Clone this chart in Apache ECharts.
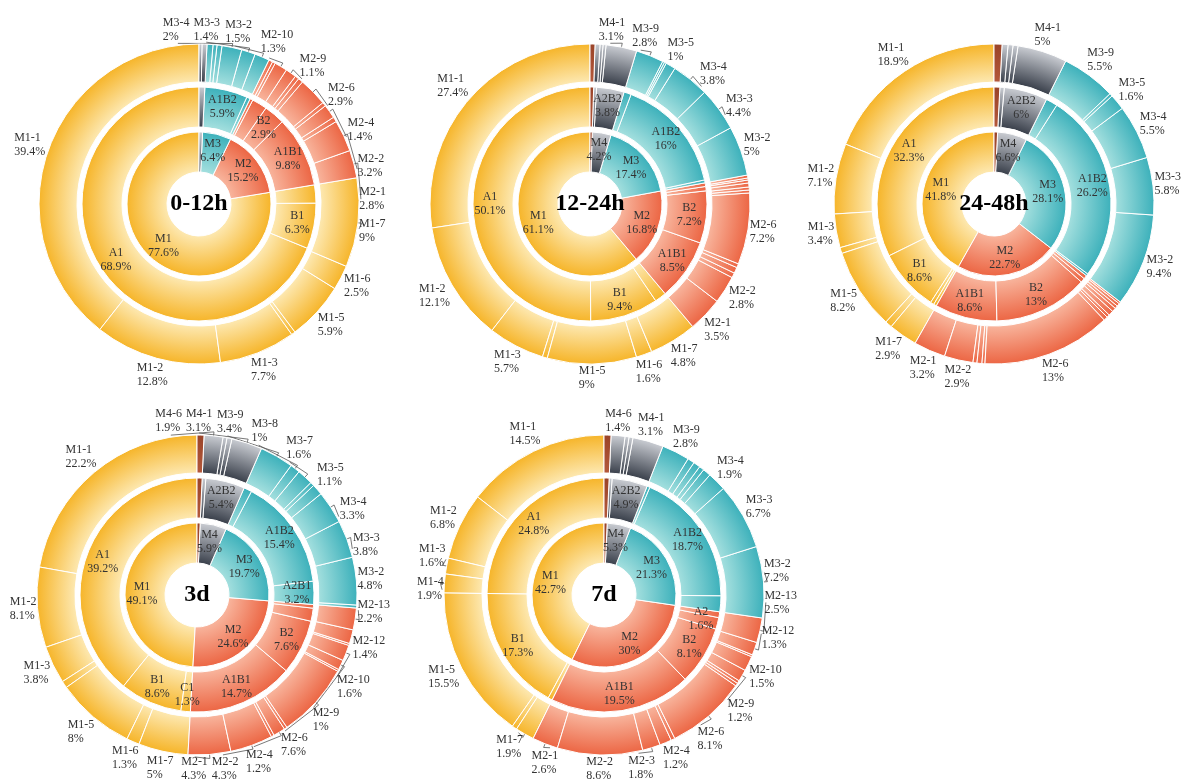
<!DOCTYPE html>
<html>
<head>
<meta charset="utf-8">
<script src="https://cdn.jsdelivr.net/npm/echarts@6/dist/echarts.min.js"></script>
<style>
  html, body { margin: 0; background: #fff; }
  #main { width: 1183px; height: 781px; }
</style>
</head>
<body>
<div id="main"></div>
<script>
// ---- data: each ring listed counter-clockwise from 12 o'clock ----
// inner ring: [name, value]; middle ring: [name, value, group]; outer ring: [name, value] (group = prefix)
const periods = ['0-12h', '12-24h', '24-48h', '3d', '7d'];

const inner_0_12h = [['M1', 77.6], ['M2', 15.2], ['M3', 6.4], ['M4', 0.8]];
const middle_0_12h = [['A1', 68.9, 'M1'], ['B1', 6.3, 'M1'], ['C1', 2.5, 'M1'],
  ['A1B1', 9.8, 'M2'], ['B2', 2.9, 'M2'], ['A2', 2.1, 'M2'], ['other', 0.4, 'M2'],
  ['A2B1', 0.5, 'M3'], ['A1B2', 5.9, 'M3'], ['A2B2', 0.8, 'M4']];
const outer_0_12h = [['M1-1', 39.4], ['M1-2', 12.8], ['M1-3', 7.7], ['M1-4', 0.4], ['M1-5', 5.9], ['M1-6', 2.5], ['M1-7', 9],
  ['M2-1', 2.8], ['M2-2', 3.2], ['M2-3', 0.5], ['M2-4', 1.4], ['M2-5', 0.4], ['M2-6', 2.9], ['M2-7', 0.5], ['M2-8', 0.4],
  ['M2-9', 1.1], ['M2-10', 1.3], ['M2-11', 0.3], ['M2-12', 0.4],
  ['M3-2', 1.5], ['M3-3', 1.4], ['M3-4', 2], ['M3-5', 0.5], ['M3-7', 0.4], ['M3-9', 0.6],
  ['M4-1', 0.5], ['M4-6', 0.3]];

const inner_12_24h = [['M1', 61.1], ['M2', 16.8], ['M3', 17.4], ['M4', 4.2], ['X', 0.5]];
const middle_12_24h = [['A1', 50.1, 'M1'], ['B1', 9.4, 'M1'], ['C1', 1.6, 'M1'],
  ['A1B1', 8.5, 'M2'], ['B2', 7.2, 'M2'], ['A2', 0.6, 'M2'], ['other', 0.5, 'M2'],
  ['A2B1', 0.4, 'M3'], ['A1B2', 16, 'M3'], ['B2C1', 1, 'M3'],
  ['A2B2', 3.8, 'M4'], ['other', 0.4, 'M4'], ['X', 0.5, 'X']];
const outer_12_24h = [['M1-1', 27.4], ['M1-2', 12.1], ['M1-3', 5.7], ['M1-4', 0.5], ['M1-5', 9], ['M1-6', 1.6], ['M1-7', 4.8],
  ['M2-1', 3.5], ['M2-2', 2.8], ['M2-3', 0.5], ['M2-4', 0.6], ['M2-5', 0.4], ['M2-6', 7.2], ['M2-7', 0.3], ['M2-8', 0.3],
  ['M2-9', 0.4], ['M2-10', 0.3], ['M2-12', 0.2], ['M2-13', 0.3],
  ['M3-2', 5], ['M3-3', 4.4], ['M3-4', 3.8], ['M3-5', 1], ['M3-7', 0.2], ['M3-8', 0.2], ['M3-9', 2.8],
  ['M4-1', 3.1], ['M4-3', 0.3], ['M4-5', 0.3], ['M4-6', 0.5], ['X', 0.5]];

const inner_24_48h = [['M1', 41.8], ['M2', 22.7], ['M3', 28.1], ['M4', 6.6], ['X', 0.8]];
const middle_24_48h = [['A1', 32.3, 'M1'], ['B1', 8.6, 'M1'], ['C1', 0.5, 'M1'], ['other', 0.4, 'M1'],
  ['A1B1', 8.6, 'M2'], ['B2', 13, 'M2'], ['A2', 0.6, 'M2'], ['other', 0.5, 'M2'],
  ['A2B1', 0.3, 'M3'], ['A1B2', 26.2, 'M3'], ['B2C1', 1.6, 'M3'],
  ['A2B2', 6, 'M4'], ['other', 0.6, 'M4'], ['X', 0.8, 'X']];
const outer_24_48h = [['M1-1', 18.9], ['M1-2', 7.1], ['M1-3', 3.4], ['M1-4', 0.6], ['M1-5', 8.2], ['M1-6', 0.7], ['M1-7', 2.9],
  ['M2-1', 3.2], ['M2-2', 2.9], ['M2-3', 0.4], ['M2-4', 0.5], ['M2-5', 0.3], ['M2-6', 13], ['M2-7', 0.4], ['M2-8', 0.3],
  ['M2-9', 0.5], ['M2-10', 0.4], ['M2-11', 0.3], ['M2-12', 0.3], ['M2-13', 0.2],
  ['M3-2', 9.4], ['M3-3', 5.8], ['M3-4', 5.5], ['M3-5', 1.6], ['M3-7', 0.3], ['M3-9', 5.5],
  ['M4-1', 5], ['M4-3', 0.5], ['M4-5', 0.5], ['M4-6', 0.6], ['X', 0.8]];

const inner_3d = [['M1', 49.1], ['M2', 24.6], ['M3', 19.7], ['M4', 5.9], ['X', 0.7]];
const middle_3d = [['A1', 39.2, 'M1'], ['B1', 8.6, 'M1'], ['C1', 1.3, 'M1'],
  ['A1B1', 14.7, 'M2'], ['B2', 7.6, 'M2'], ['A2', 1.8, 'M2'], ['other', 0.5, 'M2'],
  ['A2B1', 3.2, 'M3'], ['A1B2', 15.4, 'M3'], ['B2C1', 1.1, 'M3'],
  ['A2B2', 5.4, 'M4'], ['other', 0.5, 'M4'], ['X', 0.7, 'X']];
const outer_3d = [['M1-1', 22.2], ['M1-2', 8.1], ['M1-3', 3.8], ['M1-4', 0.7], ['M1-5', 8], ['M1-6', 1.3], ['M1-7', 5],
  ['M2-1', 4.3], ['M2-2', 4.3], ['M2-3', 0.3], ['M2-4', 1.2], ['M2-5', 0.3], ['M2-6', 7.6], ['M2-7', 0.2],
  ['M2-9', 1], ['M2-10', 1.6], ['M2-11', 0.2], ['M2-12', 1.4], ['M2-13', 2.2],
  ['M3-1', 0.3], ['M3-2', 4.8], ['M3-3', 3.8], ['M3-4', 3.3], ['M3-5', 1.1], ['M3-6', 0.4], ['M3-7', 1.6], ['M3-8', 1], ['M3-9', 3.4],
  ['M4-1', 3.1], ['M4-3', 0.5], ['M4-5', 0.4], ['M4-6', 1.9], ['X', 0.7]];

const inner_7d = [['M1', 42.7], ['M2', 30], ['M3', 21.3], ['M4', 5.3], ['X', 0.7]];
const middle_7d = [['A1', 24.8, 'M1'], ['B1', 17.3, 'M1'], ['C1', 0.6, 'M1'],
  ['A1B1', 19.5, 'M2'], ['B2', 8.1, 'M2'], ['A2', 1.6, 'M2'], ['other', 0.8, 'M2'],
  ['A2B1', 2.2, 'M3'], ['A1B2', 18.7, 'M3'], ['B2C1', 0.4, 'M3'],
  ['A2B2', 4.9, 'M4'], ['other', 0.4, 'M4'], ['X', 0.7, 'X']];
const outer_7d = [['M1-1', 14.5], ['M1-2', 6.8], ['M1-3', 1.6], ['M1-4', 1.9], ['M1-5', 15.5], ['M1-6', 0.5], ['M1-7', 1.9],
  ['M2-1', 2.6], ['M2-2', 8.6], ['M2-3', 1.8], ['M2-4', 1.2], ['M2-5', 0.4], ['M2-6', 8.1], ['M2-7', 0.3], ['M2-8', 0.3],
  ['M2-9', 1.2], ['M2-10', 1.5], ['M2-11', 0.2], ['M2-12', 1.3], ['M2-13', 2.5],
  ['M3-2', 7.2], ['M3-3', 6.7], ['M3-4', 1.9], ['M3-5', 0.8], ['M3-6', 0.5], ['M3-7', 0.7], ['M3-8', 0.7], ['M3-9', 2.8],
  ['M4-1', 3.1], ['M4-3', 0.4], ['M4-5', 0.4], ['M4-6', 1.4], ['X', 0.7]];

const rings = [
  [inner_0_12h, middle_0_12h, outer_0_12h],
  [inner_12_24h, middle_12_24h, outer_12_24h],
  [inner_24_48h, middle_24_48h, outer_24_48h],
  [inner_3d, middle_3d, outer_3d],
  [inner_7d, middle_7d, outer_7d]
];

// ---- layout & style ----
const centers = [[199, 204], [590, 204], [994, 204], [197, 595], [604, 595]];
const radii = [[32, 72], [77, 117], [122, 160]];
// [colour at ring's inner edge, colour at ring's outer edge]
const palette = {
  M1: ['#fde8b0', '#f6b52a'],
  M2: ['#f8b49c', '#ec6644'],
  M3: ['#a3dfde', '#3db1bb'],
  M4: ['#3b414c', '#c9ccd2'],
  X:  ['#b4583a', '#9a4429']
};
const serif = '"Liberation Serif", "DejaVu Serif", serif';
const labelPad = 0;      // px between ring and outer label box
const labelSep = 2;      // px kept between neighbouring outer labels

function groupOf(item, ri) {
  if (ri === 1) return item[2];
  return item[0].split('-')[0];
}

function ringColor(group, ci, ri) {
  const r = radii[ri];
  const c = palette[group];
  return {
    type: 'radial', x: centers[ci][0], y: centers[ci][1], r: r[1], global: true,
    colorStops: [{ offset: r[0] / r[1], color: c[0] }, { offset: 1, color: c[1] }]
  };
}

// mid angle (deg, counter-clockwise from 12 o'clock) of every slice
function midAngles(ring) {
  const total = ring.reduce((s, d) => s + d[1], 0);
  let acc = 0;
  return ring.map(d => { const m = (acc + d[1] / 2) / total * 360; acc += d[1]; return m; });
}

// rough label box before rendering: two lines of 12px serif
function guessSize(d) {
  const n = Math.max(d[0].length, (d[1] + '%').length);
  return [n * 6.6, 28];
}

// half extent of a label box along the circle's tangent at angle deg
function tangentExt(size, deg) {
  const t = deg * Math.PI / 180;
  return Math.abs(Math.cos(t)) * size[0] / 2 + Math.abs(Math.sin(t)) * size[1] / 2;
}

// push neighbouring label angles apart around the circle
function spreadAngles(a0, sizes) {
  const a = a0.slice();
  const n = a.length;
  if (n < 2) return a;
  const rMid = radii[2][1] + 15;
  for (let it = 0; it < 1000; it++) {
    let moved = false;
    for (let i = 0; i < n; i++) {
      const j = (i + 1) % n;
      let d = a[j] - a[i];
      if (j === 0) d += 360;
      const need = (tangentExt(sizes[i], a[i]) + tangentExt(sizes[j], a[j]) + labelSep) / rMid * 180 / Math.PI;
      if (d < need - 0.01) {
        const p = (need - d) / 2;
        a[i] -= p; a[j] += p; moved = true;
      }
    }
    if (!moved) break;
  }
  return a;
}

function polar(c, r, deg) {
  const t = deg * Math.PI / 180;
  return [c[0] - Math.sin(t) * r, c[1] - Math.cos(t) * r];
}

// outer-label angles per chart
const outerLabelAngles = rings.map(chart => {
  const ring = chart[2];
  const mids = midAngles(ring);
  const shownIdx = [];
  ring.forEach((d, i) => { if (d[1] >= 1) shownIdx.push(i); });
  const spread = spreadAngles(shownIdx.map(i => mids[i]), shownIdx.map(i => guessSize(ring[i])));
  const out = {};
  shownIdx.forEach((i, k) => { out[i] = { a0: mids[i], a: spread[k] }; });
  return out;
});

function outerLabelLayout(ci) {
  return function (params) {
    const info = outerLabelAngles[ci][params.dataIndex];
    if (!info) return {};
    const c = centers[ci];
    const R = radii[2][1];
    const w = params.labelRect.width, h = params.labelRect.height;
    const t = info.a * Math.PI / 180;
    const ext = Math.abs(Math.sin(t)) * w / 2 + Math.abs(Math.cos(t)) * h / 2;
    const rc = R + labelPad + ext;
    const p = polar(c, rc, info.a);
    let pts;
    if (Math.abs(info.a - info.a0) > 2) {
      pts = [polar(c, R - 3, info.a0), polar(c, R + 4, info.a0), polar(c, R + labelPad + 2, info.a)];
    } else {
      const q = polar(c, R, info.a0);
      pts = [q, q, q];
    }
    return {
      x: p[0] - w / 2, y: p[1], align: 'left', verticalAlign: 'middle',
      labelLinePoints: pts
    };
  };
}

const series = [];
rings.forEach((chart, ci) => {
  chart.forEach((ring, ri) => {
    const s = {
      type: 'pie',
      center: centers[ci],
      radius: radii[ri],
      startAngle: 90,
      clockwise: false,
      animation: false,
      silent: true,
      avoidLabelOverlap: false,
      itemStyle: { borderColor: '#fff', borderWidth: 1 },
      label: {
        position: ri === 2 ? 'outside' : 'inside',
        formatter: '{b}\n{c}%', color: '#333',
        fontFamily: serif, fontSize: 12, lineHeight: 14
      },
      labelLine: { length: 0, length2: 0, lineStyle: { color: '#555', width: 0.8 } },
      data: ring.map(d => {
        const show = d[1] >= 1;
        return {
          name: d[0], value: d[1],
          itemStyle: { color: ringColor(groupOf(d, ri), ci, ri) },
          label: { show: show },
          labelLine: { show: show && ri === 2 }
        };
      })
    };
    if (ri === 2) s.labelLayout = outerLabelLayout(ci);
    series.push(s);
  });
});

const chart = echarts.init(document.getElementById('main'));
chart.setOption({
  backgroundColor: '#fff',
  graphic: periods.map((p, ci) => ({
    type: 'text', x: centers[ci][0], y: centers[ci][1], z: 100,
    style: {
      text: p, align: 'center', verticalAlign: 'middle',
      font: 'bold 24px ' + serif, fill: '#000'
    }
  })),
  series: series
});
</script>
</body>
</html>
